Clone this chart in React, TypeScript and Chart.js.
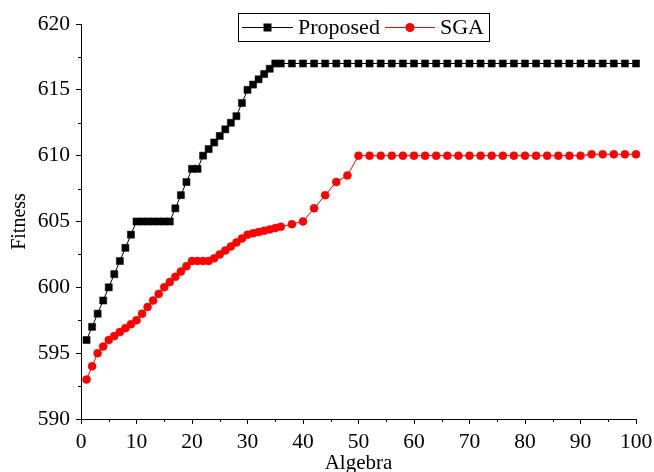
import React, { useEffect, useRef } from 'react';
import { Chart, registerables } from 'chart.js';

Chart.register(...registerables);

const generations = [
  1, 2, 3, 4, 5, 6, 7, 8, 9, 10, 11, 12, 13, 14, 15, 16, 17, 18, 19, 20,
  21, 22, 23, 24, 25, 26, 27, 28, 29, 30, 31, 32, 33, 34, 35, 36,
  38, 40, 42, 44, 46, 48, 50, 52, 54, 56, 58, 60, 62, 64, 66, 68, 70,
  72, 74, 76, 78, 80, 82, 84, 86, 88, 90, 92, 94, 96, 98, 100,
];

const proposedFitness = [
  596, 597, 598, 599, 600, 601, 602, 603, 604, 605, 605, 605, 605, 605, 605, 605, 606, 607, 608, 609,
  609, 610, 610.5, 611, 611.5, 612, 612.5, 613, 614, 615, 615.4, 615.8, 616.2, 616.6, 617, 617,
  617, 617, 617, 617, 617, 617, 617, 617, 617, 617, 617, 617, 617, 617, 617, 617, 617,
  617, 617, 617, 617, 617, 617, 617, 617, 617, 617, 617, 617, 617, 617, 617,
];

const sgaFitness = [
  593, 594, 595, 595.5, 596, 596.3, 596.6, 596.9, 597.2, 597.5, 598, 598.5, 599, 599.5, 600, 600.4, 600.8, 601.2, 601.6, 602,
  602, 602, 602, 602.2, 602.5, 602.8, 603.1, 603.4, 603.7, 604, 604.1, 604.2, 604.3, 604.4, 604.5, 604.6,
  604.8, 605, 606, 607, 608, 608.5, 610, 610, 610, 610, 610, 610, 610, 610, 610, 610, 610,
  610, 610, 610, 610, 610, 610, 610, 610, 610, 610, 610.1, 610.1, 610.1, 610.1, 610.1,
];

const seriesNames = ['Proposed', 'SGA'];
const xTickValues = [0, 10, 20, 30, 40, 50, 60, 70, 80, 90, 100];
const yTickValues = [590, 595, 600, 605, 610, 615, 620];
const xTitle = 'Algebra';
const yTitle = 'Fitness';

const FONT = '"Liberation Serif", "Times New Roman", serif';

const minorTicksPlugin = {
  id: 'minorTicks',
  afterDraw(chart: any) {
    const { ctx, scales } = chart;
    const x = scales.x;
    const y = scales.y;
    ctx.save();
    ctx.strokeStyle = '#000';
    ctx.lineWidth = 1;
    ctx.beginPath();
    for (let i = 0; i < xTickValues.length - 1; i++) {
      const v = (xTickValues[i] + xTickValues[i + 1]) / 2;
      const px = Math.round(x.getPixelForValue(v)) + 0.5;
      ctx.moveTo(px, y.bottom);
      ctx.lineTo(px, y.bottom + 3);
    }
    for (let i = 0; i < yTickValues.length - 1; i++) {
      const v = (yTickValues[i] + yTickValues[i + 1]) / 2;
      const py = Math.round(y.getPixelForValue(v)) + 0.5;
      ctx.moveTo(x.left, py);
      ctx.lineTo(x.left - 3, py);
    }
    ctx.stroke();
    ctx.restore();
  },
};

const legendPlugin = {
  id: 'boxLegend',
  afterDraw(chart: any) {
    const { ctx } = chart;
    const ds = chart.data.datasets;
    const left = 238.5;
    const top = 13.5;
    const w = 251;
    const h = 28;
    const cy = top + h / 2;
    ctx.save();
    ctx.fillStyle = '#fff';
    ctx.fillRect(left, top, w, h);
    ctx.strokeStyle = '#000';
    ctx.lineWidth = 1;
    ctx.strokeRect(left, top, w, h);
    ctx.font = `22px ${FONT}`;
    ctx.textBaseline = 'middle';
    ctx.textAlign = 'left';
    const items = [
      { x0: 242, x1: 293, tx: 298 },
      { x0: 385, x1: 435, tx: 440 },
    ];
    items.forEach((it, i) => {
      const d = ds[i];
      ctx.strokeStyle = d.borderColor;
      ctx.lineWidth = 1;
      ctx.beginPath();
      ctx.moveTo(it.x0, cy);
      ctx.lineTo(it.x1, cy);
      ctx.stroke();
      ctx.fillStyle = d.backgroundColor;
      const mx = (it.x0 + it.x1) / 2;
      if (d.pointStyle === 'rect') {
        ctx.fillRect(mx - 4, cy - 4, 8, 8);
      } else {
        ctx.beginPath();
        ctx.arc(mx, cy, 4.5, 0, Math.PI * 2);
        ctx.fill();
      }
      ctx.fillStyle = '#000';
      ctx.fillText(d.label, it.tx, cy + 1);
    });
    ctx.restore();
  },
};

export default function App() {
  const canvasRef = useRef<HTMLCanvasElement | null>(null);

  useEffect(() => {
    document.body.style.margin = '0';
    const canvas = canvasRef.current;
    if (!canvas) return;
    const chart = new Chart(canvas, {
      type: 'line',
      data: {
        datasets: [
          {
            label: seriesNames[0],
            data: generations.map((g, i) => ({ x: g, y: proposedFitness[i] })),
            borderColor: '#000',
            backgroundColor: '#000',
            borderWidth: 1,
            pointStyle: 'rect',
            pointRadius: 5,
            pointBorderWidth: 0.5,
            pointBorderColor: '#000',
            pointBackgroundColor: '#000',
            clip: false,
            tension: 0,
          },
          {
            label: seriesNames[1],
            data: generations.map((g, i) => ({ x: g, y: sgaFitness[i] })),
            borderColor: '#ff0000',
            backgroundColor: '#ff0000',
            borderWidth: 1,
            pointStyle: 'circle',
            pointRadius: 4,
            pointBorderWidth: 0.5,
            pointBorderColor: '#ff0000',
            pointBackgroundColor: '#ff0000',
            clip: false,
            tension: 0,
          },
        ],
      } as any,
      options: {
        animation: false,
        responsive: false,
        maintainAspectRatio: false,
        layout: { padding: { top: 24, right: 18, left: 0, bottom: 0 } },
        plugins: {
          legend: { display: false },
          tooltip: { enabled: false },
        },
        scales: {
          x: {
            type: 'linear',
            min: 0,
            max: 100,
            afterBuildTicks: (s: any) => {
              s.ticks = xTickValues.map((v) => ({ value: v }));
            },
            afterFit: (s: any) => {
              s.height = 53;
              s.paddingLeft = 0;
              s.paddingRight = 0;
            },
            grid: { drawOnChartArea: false, drawTicks: true, tickLength: 5, tickColor: '#000' },
            border: { display: true, color: '#000', width: 1 },
            ticks: {
              color: '#000',
              font: { family: FONT, size: 21.5 },
              padding: 5,
              maxRotation: 0,
              autoSkip: false,
            },
            title: {
              display: true,
              text: xTitle,
              color: '#000',
              font: { family: FONT, size: 21, lineHeight: 0.8 },
              padding: { top: 0, bottom: 0 },
            },
          },
          y: {
            type: 'linear',
            min: 590,
            max: 620,
            afterBuildTicks: (s: any) => {
              s.ticks = yTickValues.map((v) => ({ value: v }));
            },
            afterFit: (s: any) => {
              s.width = 81;
              s.paddingTop = 0;
              s.paddingBottom = 0;
            },
            grid: { drawOnChartArea: false, drawTicks: true, tickLength: 5, tickColor: '#000' },
            border: { display: true, color: '#000', width: 1 },
            ticks: {
              color: '#000',
              font: { family: FONT, size: 21.5 },
              padding: 6,
              autoSkip: false,
            },
            title: {
              display: true,
              text: yTitle,
              color: '#000',
              font: { family: FONT, size: 20, lineHeight: 1.2 },
              padding: { top: 8, bottom: 0 },
            },
          },
        },
      } as any,
      plugins: [minorTicksPlugin, legendPlugin],
    });
    return () => chart.destroy();
  }, []);

  return (
    <div style={{ width: 654, height: 472 }}>
      <canvas ref={canvasRef} width={654} height={472} />
    </div>
  );
}
